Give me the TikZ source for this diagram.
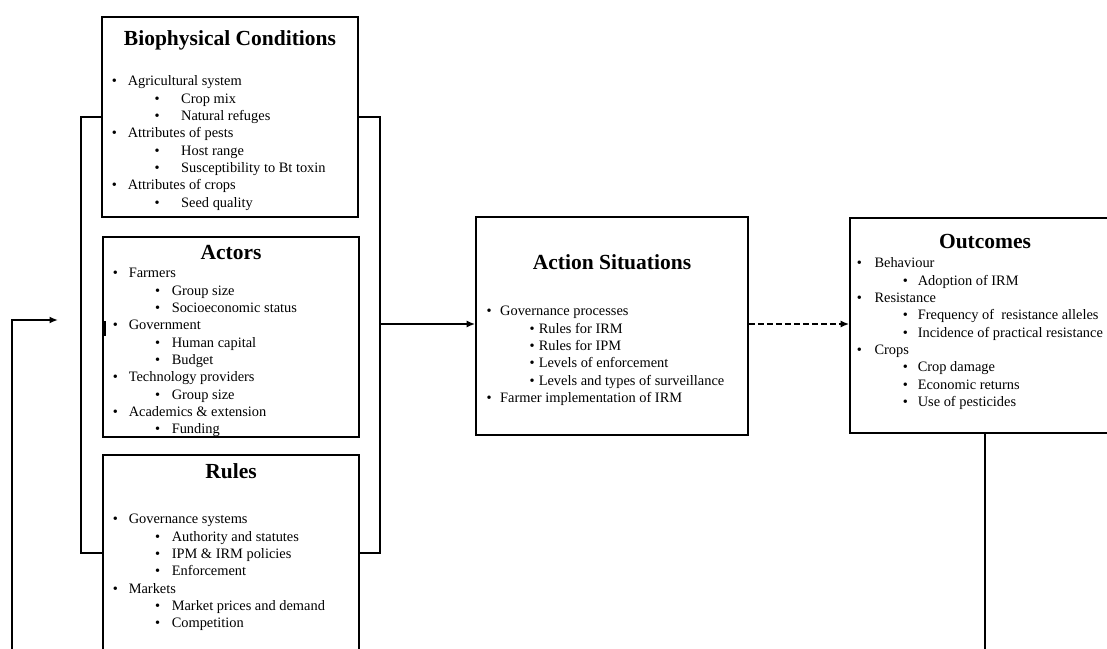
\documentclass[tikz,border=0pt]{standalone}
\usepackage{fontspec}
\setmainfont{Liberation Serif}
\usetikzlibrary{arrows.meta}
\newcommand{\dgLa}[2]{\makebox[#1pt][l]{\textbullet}#2}
\newcommand{\dgLb}[3]{\hspace*{#1pt}\makebox[#2pt][l]{\textbullet}#3}
\begin{document}
\begin{tikzpicture}[x=1pt,y=-1pt,
 box/.style={draw, line width=1.6pt, fill=white, inner sep=0pt},
 ttl/.style={font=\fontsize{21.5}{25}\selectfont\bfseries, anchor=base, inner sep=0pt},
 lst/.style={font=\fontsize{14.4}{17.35}\selectfont, align=left, anchor=north west, inner sep=0pt},
 conn/.style={line width=1.8pt},
 arr/.style={conn, -{Latex[length=8.5pt,width=7pt]}}]
\clip (0,0) rectangle (1107,648);
\fill[white] (0,0) rectangle (1107,648);
% frame behind left boxes
\node[draw, line width=1.6pt, minimum width=299pt, minimum height=436pt, inner sep=0pt] (frame) at (230.5,335) {};
% boxes
\node[box, minimum width=256pt, minimum height=200pt] (bio) at (230,117) {};
\node[box, minimum width=256pt, minimum height=200pt] (act) at (231,337) {};
\node[box, minimum width=256pt, minimum height=215pt] (rul) at (231,562.5) {};
\node[box, minimum width=272pt, minimum height=218pt] (sit) at (612,326) {};
\node[box, minimum width=270pt, minimum height=215pt] (out) at (985,325.5) {};
% titles
\node[ttl] (biot) at (230,45.5) {Biophysical Conditions};
\node[ttl] (actt) at (231,259.5) {Actors};
\node[ttl] (rult) at (231,478.5) {Rules};
\node[ttl] (sitt) at (612,269.5) {Action Situations};
\node[ttl] (outt) at (985,248.5) {Outcomes};
% lists
\node[lst] (biol) at (111.6,73.4) {\strut\dgLa{16}{Agricultural system}\\
\dgLb{42.7}{26.7}{Crop mix}\\
\dgLb{42.7}{26.7}{Natural refuges}\\
\dgLa{16}{Attributes of pests}\\
\dgLb{42.7}{26.7}{Host range}\\
\dgLb{42.7}{26.7}{Susceptibility to Bt toxin}\\
\dgLa{16}{Attributes of crops}\\
\dgLb{42.7}{26.7}{Seed quality}};
\node[lst] (actl) at (112.6,265.4) {\strut\dgLa{16}{Farmers}\\
\dgLb{42.4}{16.6}{Group size}\\
\dgLb{42.4}{16.6}{Socioeconomic status}\\
\dgLa{16}{Government}\\
\dgLb{42.4}{16.6}{Human capital}\\
\dgLb{42.4}{16.6}{Budget}\\
\dgLa{16}{Technology providers}\\
\dgLb{42.4}{16.6}{Group size}\\
\dgLa{16}{Academics \& extension}\\
\dgLb{42.4}{16.6}{Funding}};
\node[lst] (rull) at (112.6,511.4) {\strut\dgLa{16}{Governance systems}\\
\dgLb{42.4}{16.6}{Authority and statutes}\\
\dgLb{42.4}{16.6}{IPM \& IRM policies}\\
\dgLb{42.4}{16.6}{Enforcement}\\
\dgLa{16}{Markets}\\
\dgLb{42.4}{16.6}{Market prices and demand}\\
\dgLb{42.4}{16.6}{Competition}};
\node[lst] (sitl) at (486.3,303.4) {\strut\dgLa{13.7}{Governance processes}\\
\dgLb{43}{9.3}{Rules for IRM}\\
\dgLb{43}{9.3}{Rules for IPM}\\
\dgLb{43}{9.3}{Levels of enforcement}\\
\dgLb{43}{9.3}{Levels and types of surveillance}\\
\dgLa{13.7}{Farmer implementation of IRM}};
\node[lst] (outl) at (856.6,255.4) {\strut\dgLa{17.7}{Behaviour}\\
\dgLb{46}{15}{Adoption of IRM}\\
\dgLa{17.7}{Resistance}\\
\dgLb{46}{15}{Frequency of\ \ resistance alleles}\\
\dgLb{46}{15}{Incidence of practical resistance}\\
\dgLa{17.7}{Crops}\\
\dgLb{46}{15}{Crop damage}\\
\dgLb{46}{15}{Economic returns}\\
\dgLb{46}{15}{Use of pesticides}};
% small mark on actors left edge
\draw[line width=2.2pt] (104.5,321) -- (104.5,336);
% connectors
\coordinate (sitin) at ([yshift=2pt]sit.west);
\coordinate (sitout) at ([yshift=2pt]sit.east);
\coordinate (fbin) at (58,320);
\coordinate (fbl) at (12,700);
\draw[arr] (frame.east |- sitin) -- (sitin);
\draw[arr, dash pattern=on 6pt off 3pt] (sitout) -- (out.west |- sitout);
\draw[arr] (out.south) -- (out.south |- fbl) -- (fbl) -- (fbl |- fbin) -- (fbin);
\end{tikzpicture}
\end{document}
